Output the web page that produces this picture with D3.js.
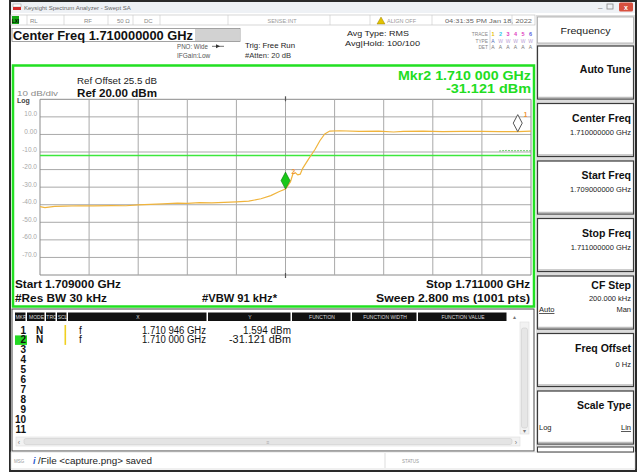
<!DOCTYPE html>
<html><head><meta charset="utf-8">
<script src="https://cdn.jsdelivr.net/npm/d3@7"></script>
<style>
body{margin:0;background:#ffffff;}
text{font-family:"Liberation Sans",Arial,sans-serif;}
</style>
</head><body>
<svg id="c" width="640" height="473"></svg>
<script>
// ---------- data ----------
const freqMHz = [1709.000,1709.020,1709.060,1709.100,1709.160,1709.220,1709.290,1709.350,1709.400,1709.450,
  1709.500,1709.560,1709.600,1709.650,1709.700,1709.750,1709.800,1709.850,1709.900,1709.940,
  1709.975,1710.000,1710.020,1710.030,1710.040,1710.050,1710.060,1710.070,1710.095,1710.120,
  1710.140,1710.160,1710.180,1710.220,1710.300,1710.380,1710.440,1710.480,1710.560,1710.640,
  1710.720,1710.800,1710.870,1710.946,1711.000];
const traceDbm = [-41.1,-41.6,-40.9,-40.8,-40.6,-40.7,-40.5,-40.6,-40.1,-39.8,
  -39.5,-39.1,-39.2,-38.8,-39.0,-38.7,-38.4,-38.0,-36.6,-34.8,
  -32.5,-31.121,-27.0,-22.5,-21.8,-23.0,-22.6,-19.3,-13.8,-8.6,
  -3.6,0.3,1.9,2.1,1.8,1.9,1.4,1.7,1.9,1.6,
  1.8,1.7,1.6,1.594,1.9];
const trace2Freq = [1710.870,1710.900,1710.930,1710.960,1711.000];
const trace2Dbm = [-9.4,-9.1,-9.3,-9.2,-9.3];
const displayLineDbm = -12;
const yGridDbm = [20,10,0,-10,-20,-30,-40,-50,-60,-70,-80];
const yTickLabels = ["10.0","0.00","-10.0","-20.0","-30.0","-40.0","-50.0","-60.0","-70.0"];
const yTickValues = [10,0,-10,-20,-30,-40,-50,-60,-70];
const xGridMHz = [1709.0,1709.2,1709.4,1709.6,1709.8,1710.0,1710.2,1710.4,1710.6,1710.8,1711.0];
const markerFreq = [1710.946, 1710.000];
const markerDbm = [1.594, -31.121];
const markerRows = [
  ["1","N","f","1.710 946 GHz","1.594 dBm"],
  ["2","N","f","1.710 000 GHz","-31.121 dBm"]
];
const tableHeaders = ["MKR","MODE","TRC","SCL","X","Y","FUNCTION","FUNCTION WIDTH","FUNCTION VALUE"];
const softkeyTitles = ["Auto Tune","Center Freq","Start Freq","Stop Freq","CF Step","Freq Offset","Scale Type"];
const softkeyValues = ["","1.710000000 GHz","1.709000000 GHz","1.711000000 GHz","200.000 kHz","0 Hz",""];

// ---------- drawing ----------
const svg = d3.select("#c");
const F = '"Liberation Sans",Arial,sans-serif';

function txt(g, x, y, s, o={}) {
  const t = g.append("text").attr("x", x).attr("y", y).text(s)
    .attr("font-size", o.size || 8)
    .attr("fill", o.fill || "#111")
    .attr("font-weight", o.bold ? "bold" : "normal")
    .attr("text-anchor", o.anchor || "start");
  if (o.len) t.attr("textLength", o.len).attr("lengthAdjust", "spacingAndGlyphs");
  if (o.deco) t.attr("text-decoration", o.deco);
  return t;
}

// window frame
svg.append("rect").attr("x",10).attr("y",1).attr("width",626).attr("height",470)
  .attr("fill","#ffffff").attr("stroke","#2a2a2a").attr("stroke-width",2);
// title bar
svg.append("rect").attr("x",11).attr("y",2).attr("width",624).attr("height",11).attr("fill","#eef1f5");
svg.append("rect").attr("x",13).attr("y",4).attr("width",8).attr("height",3).attr("fill","#ffffff").attr("stroke","#999").attr("stroke-width",0.5);
svg.append("rect").attr("x",13).attr("y",7).attr("width",8).attr("height",3).attr("fill","#d42a2a");
txt(svg, 24, 9.5, "Keysight Spectrum Analyzer - Swept SA", {size:6, fill:"#666"});
txt(svg, 598, 10, "–", {size:8, fill:"#777"});
svg.append("rect").attr("x",607).attr("y",4).attr("width",6).attr("height",5).attr("fill","none").attr("stroke","#888").attr("stroke-width",0.8);
svg.append("rect").attr("x",619).attr("y",2.5).attr("width",14).attr("height",9).attr("rx",1.5).attr("fill","#d9503f");
txt(svg, 626, 10, "x", {size:7, fill:"#fff", bold:true, anchor:"middle"});

// status row
const sr = svg.append("g");
sr.append("rect").attr("x",11).attr("y",15).attr("width",524).attr("height",10).attr("fill","#fff").attr("stroke","#bbb").attr("stroke-width",0.6);
sr.append("rect").attr("x",12).attr("y",16).attr("width",7).attr("height",8).attr("fill","#13a813");
txt(sr, 15.5, 22.5, "LXI", {size:4.5, fill:"#000", bold:true, anchor:"middle"});
[27,64,108,133,160,228,330,370,432,512].forEach(x=>{
  sr.append("line").attr("x1",x).attr("x2",x).attr("y1",15).attr("y2",25).attr("stroke","#c8c8c8").attr("stroke-width",0.6);
});
txt(sr, 30, 23, "RL", {size:6, fill:"#888"});
txt(sr, 84, 23, "RF", {size:6, fill:"#888"});
txt(sr, 117, 23, "50 Ω", {size:6, fill:"#888"});
txt(sr, 144, 23, "DC", {size:6, fill:"#888"});
txt(sr, 282, 23, "SENSE:INT", {size:5.5, fill:"#999", anchor:"middle"});
sr.append("path").attr("d","M377,24 L381,17 L385,24 Z").attr("fill","#e2c200").attr("stroke","#8a7000").attr("stroke-width",0.4);
txt(sr, 387, 23, "ALIGN OFF", {size:5.5, fill:"#999"});
txt(sr, 445, 23, "04:31:35 PM Jan 18, 2022", {size:5.5, fill:"#666", len:87});

// header info
const hd = svg.append("g");
hd.append("rect").attr("x",12).attr("y",28.5).attr("width",228).attr("height",13).attr("fill","#fff").attr("stroke","#8c8c8c").attr("stroke-width",0.8);
hd.append("rect").attr("x",195).attr("y",29).attr("width",44.5).attr("height",12).attr("fill","#d2d2d2");
txt(hd, 13, 39.5, "Center Freq 1.710000000 GHz", {size:13, bold:true, fill:"#111", len:180});
txt(hd, 177, 48.5, "PNO: Wide", {size:6.5, fill:"#555", len:31});
hd.append("line").attr("x1",212).attr("x2",224).attr("y1",46.3).attr("y2",46.3).attr("stroke","#333").attr("stroke-width",0.7);
hd.append("path").attr("d","M220,46.3 L216,44.3 L216,48.3 Z").attr("fill","#333");
txt(hd, 177, 58, "IFGain:Low", {size:6.5, fill:"#555"});
txt(hd, 245, 48, "Trig: Free Run", {size:7.5, fill:"#222", len:50});
txt(hd, 245, 57.5, "#Atten: 20 dB", {size:7, fill:"#333", len:46});
txt(hd, 347, 36, "Avg Type: RMS", {size:7.5, fill:"#222", len:62});
txt(hd, 345, 46, "Avg|Hold: 100/100", {size:7.5, fill:"#222", len:75});
txt(hd, 488, 36, "TRACE", {size:4.8, fill:"#888", anchor:"end"});
txt(hd, 488, 42.5, "TYPE", {size:4.8, fill:"#888", anchor:"end"});
txt(hd, 488, 49, "DET", {size:4.8, fill:"#888", anchor:"end"});
hd.append("line").attr("x1",490).attr("x2",490).attr("y1",30).attr("y2",50).attr("stroke","#bbb").attr("stroke-width",0.6);
const trCols = ["#e8c000","#36c8e8","#e040c0","#e040c0","#e040c0","#6060e0"];
trCols.forEach((c,i)=>{
  txt(hd, 493+i*7.5, 36, String(i+1), {size:5.5, fill:c, bold:true, anchor:"middle"});
  txt(hd, 493+i*7.5, 42.5, i===0?"A":"W", {size:5, fill:i===0?"#4f6fb8":"#b9a0d6", anchor:"middle"});
  txt(hd, 493+i*7.5, 49, "A", {size:5, fill:"#777", anchor:"middle"});
});

// ---------- plot ----------
const x = d3.scaleLinear().domain([1709.0, 1711.0]).range([40, 531]);
const y = d3.scaleLinear().domain([-80, 20]).range([275, 99.3]);

const pg = svg.append("g");
pg.append("rect").attr("x",13).attr("y",65.5).attr("width",521).attr("height",241)
  .attr("fill","#fff").attr("stroke","#22e022").attr("stroke-width",2.5);

pg.selectAll(".hg").data(yGridDbm).enter().append("line")
  .attr("x1",x(1709.0)).attr("x2",x(1711.0))
  .attr("y1",d=>y(d)).attr("y2",d=>y(d))
  .attr("stroke",(d,i)=> (i===0||i===yGridDbm.length-1)?"#8a8a8a":"#a9a9a9").attr("stroke-width",1);
pg.selectAll(".vg").data(xGridMHz).enter().append("line")
  .attr("x1",d=>x(d)).attr("x2",d=>x(d))
  .attr("y1",y(20)).attr("y2",y(-80))
  .attr("stroke",(d,i)=> (i===0||i===xGridMHz.length-1)?"#8a8a8a":"#a9a9a9").attr("stroke-width",1);
pg.append("line").attr("x1",x(1710.0)).attr("x2",x(1710.0)).attr("y1",y(20)-3).attr("y2",y(20)+2).attr("stroke","#555").attr("stroke-width",1.2);
pg.append("line").attr("x1",x(1710.0)).attr("x2",x(1710.0)).attr("y1",y(-80)-2).attr("y2",y(-80)+3).attr("stroke","#555").attr("stroke-width",1.2);

pg.selectAll(".yl").data(yTickValues).enter().append("text")
  .attr("x",37).attr("y",d=>y(d)-0.5)
  .attr("text-anchor","end").attr("font-size",6.5).attr("fill","#a8a8a8")
  .attr("font-family",F)
  .text((d,i)=>yTickLabels[i]);

txt(pg, 17, 96, "10 dB/div", {size:7, fill:"#8a8a8a", len:41});
txt(pg, 17, 103, "Log", {size:7, fill:"#444", bold:true});
txt(pg, 77, 84, "Ref Offset 25.5 dB", {size:8.5, fill:"#222", len:80});
txt(pg, 77, 96.5, "Ref 20.00 dBm", {size:11.5, fill:"#111", bold:true, len:80});
txt(pg, 531, 79.5, "Mkr2 1.710 000 GHz", {size:12, fill:"#22dd22", bold:true, anchor:"end", len:133});
txt(pg, 531, 93, "-31.121 dBm", {size:12, fill:"#22dd22", bold:true, anchor:"end", len:85});

pg.append("line").attr("x1",x(1709.0)).attr("x2",x(1711.0))
  .attr("y1",y(displayLineDbm)).attr("y2",y(displayLineDbm))
  .attr("stroke","#3ce83c").attr("stroke-width",1.6);

const line = d3.line().x(d=>x(d[0])).y(d=>y(d[1]));
pg.append("path").datum(d3.zip(trace2Freq, trace2Dbm)).attr("d", line)
  .attr("fill","none").attr("stroke","#6cc86c").attr("stroke-width",1).attr("stroke-dasharray","2,1");

pg.append("path").datum(d3.zip(freqMHz, traceDbm)).attr("d", line)
  .attr("fill","none").attr("stroke","#f0b43c").attr("stroke-width",1.2);

markerFreq.forEach((f,i)=>{
  const mx = x(f), my = y(markerDbm[i]);
  const d = `M${mx},${my} L${mx-4.5},${my-8.5} L${mx},${my-17} L${mx+4.5},${my-8.5} Z`;
  if (i===1) {
    pg.append("path").attr("d",d).attr("fill","#18c818").attr("stroke","#0a7a0a").attr("stroke-width",0.6);
  } else {
    pg.append("path").attr("d",d).attr("fill","#fff").attr("stroke","#555").attr("stroke-width",1);
  }
  txt(pg, mx+6, my-15, String(i+1), {size:6.5, fill:"#f09030", bold:true});
});

txt(pg, 15, 288, "Start 1.709000 GHz", {size:10.5, bold:true, fill:"#111", len:106});
txt(pg, 15, 302, "#Res BW 30 kHz", {size:10.5, bold:true, fill:"#111", len:92});
txt(pg, 202, 302, "#VBW 91 kHz*", {size:10.5, bold:true, fill:"#111", len:75});
txt(pg, 530, 288, "Stop 1.711000 GHz", {size:10.5, bold:true, fill:"#111", anchor:"end", len:104});
txt(pg, 530, 302, "Sweep  2.800 ms (1001 pts)", {size:10.5, bold:true, fill:"#111", anchor:"end", len:154});

// ---------- marker table ----------
const tb = svg.append("g");
tb.append("rect").attr("x",12).attr("y",309).attr("width",522).attr("height",142).attr("fill","#fff").attr("stroke","#444").attr("stroke-width",1);
const colX = [15,27,46,57,68,208,292,352,418,508];
tableHeaders.forEach((h,i)=>{
  tb.append("rect").attr("x",colX[i]).attr("y",312.5).attr("width",colX[i+1]-colX[i]-1.5).attr("height",8.5).attr("fill","#111");
  txt(tb, (colX[i]+colX[i+1])/2, 319, h, {size:5, fill:"#ddd", anchor:"middle"});
});
txt(tb, 514, 319, "▴", {size:6, fill:"#777", anchor:"middle"});
for (let r=0;r<11;r++){
  const ry = 333.5 + r*9.9;
  if (r===1) tb.append("rect").attr("x",15).attr("y",ry-8).attr("width",12).attr("height",9.5).attr("fill","#23d823");
  txt(tb, 26, ry, String(r+1), {size:10, bold:true, fill:"#111", anchor:"end"});
}
markerRows.forEach((row,r)=>{
  const ry = 333.5 + r*9.9;
  txt(tb, 36, ry, row[1], {size:10, bold:true, fill:"#111"});
  tb.append("rect").attr("x",64.5).attr("y",ry-8.5).attr("width",1.6).attr("height",10).attr("fill","#f0d020");
  txt(tb, 79, ry, row[2], {size:10, fill:"#111"});
  txt(tb, 206, ry, row[3], {size:10, fill:"#111", anchor:"end", len:64});
  txt(tb, 291, ry, row[4], {size:10, fill:"#111", anchor:"end", len: r===0?48:62});
});
tb.append("rect").attr("x",520).attr("y",322).attr("width",9).attr("height",112).attr("fill","#f2f2f2").attr("stroke","#ddd").attr("stroke-width",0.6);
tb.append("rect").attr("x",521.5).attr("y",328).attr("width",6).attr("height",100).attr("rx",2).attr("fill","#e6e6e6").attr("stroke","#cfcfcf").attr("stroke-width",0.6);
txt(tb, 524.5, 433, "▾", {size:6, fill:"#777", anchor:"middle"});
tb.append("rect").attr("x",16).attr("y",437).attr("width",504).attr("height",9).attr("fill","#f2f2f2").attr("stroke","#ddd").attr("stroke-width",0.6);
tb.append("rect").attr("x",24).attr("y",438.5).attr("width",488).attr("height",6).attr("rx",2).attr("fill","#e4e4e4").attr("stroke","#cfcfcf").attr("stroke-width",0.6);
txt(tb, 19, 444.5, "‹", {size:7, fill:"#777", anchor:"middle"});
txt(tb, 516, 444.5, "›", {size:7, fill:"#777", anchor:"middle"});
txt(tb, 268, 443.5, "≡", {size:5, fill:"#aaa", anchor:"middle"});

// message bar
const mb = svg.append("g");
mb.append("rect").attr("x",11).attr("y",452).attr("width",624).attr("height",17).attr("fill","#fff").attr("stroke","#ccc").attr("stroke-width",0.6);
txt(mb, 14, 463, "MSG", {size:4.5, fill:"#999"});
txt(mb, 33, 464, "i", {size:9, fill:"#2a5cd0", bold:true}).attr("font-style","italic");
txt(mb, 38, 464, "/File <capture.png> saved", {size:8.5, fill:"#222", len:114});
txt(mb, 402, 463, "STATUS", {size:4.5, fill:"#999"});
mb.append("line").attr("x1",385).attr("x2",385).attr("y1",453).attr("y2",468).attr("stroke","#ddd");

// ---------- softkey panel ----------
const sk = svg.append("g");
sk.append("rect").attr("x",536).attr("y",15).attr("width",99).attr("height",437).attr("fill","#dcdcdc");
sk.append("rect").attr("x",537.5).attr("y",17).attr("width",96).attr("height",26).attr("fill","#fff").attr("stroke","#a8a8a8").attr("stroke-width",0.8);
txt(sk, 585.5, 34, "Frequency", {size:9, fill:"#222", anchor:"middle", len:50});
const btnTop = [46,103.5,161,218.5,276,333.5,391];
softkeyTitles.forEach((t,i)=>{
  const by = btnTop[i];
  sk.append("rect").attr("x",537.5).attr("y",by).attr("width",96).attr("height",53).attr("fill","#fff").attr("stroke","#3a3a3a").attr("stroke-width",1.2);
  sk.append("line").attr("x1",538).attr("x2",633).attr("y1",by+51.5).attr("y2",by+51.5).attr("stroke","#bdbdbd").attr("stroke-width",1.5);
  const ty = (i===0)? by+27 : (i===4 ? by+13 : by+18);
  txt(sk, 631, ty, t, {size:10.5, bold:true, fill:"#111", anchor:"end"});
  if (softkeyValues[i]) {
    const vy = i===4 ? by+25 : (i===5 ? by+33 : by+31);
    txt(sk, 631, vy, softkeyValues[i], {size:7.5, fill:"#222", anchor:"end"});
  }
});
txt(sk, 539, 312, "Auto", {size:7.5, fill:"#222", deco:"underline"});
txt(sk, 631, 312, "Man", {size:7.5, fill:"#222", anchor:"end"});
txt(sk, 539, 430, "Log", {size:7.5, fill:"#222"});
txt(sk, 631, 430, "Lin", {size:7.5, fill:"#222", anchor:"end", deco:"underline"});
sk.append("rect").attr("x",537.5).attr("y",447).attr("width",96).attr("height",5).attr("fill","#fff").attr("stroke","#3a3a3a").attr("stroke-width",1);
</script>
</body></html>
